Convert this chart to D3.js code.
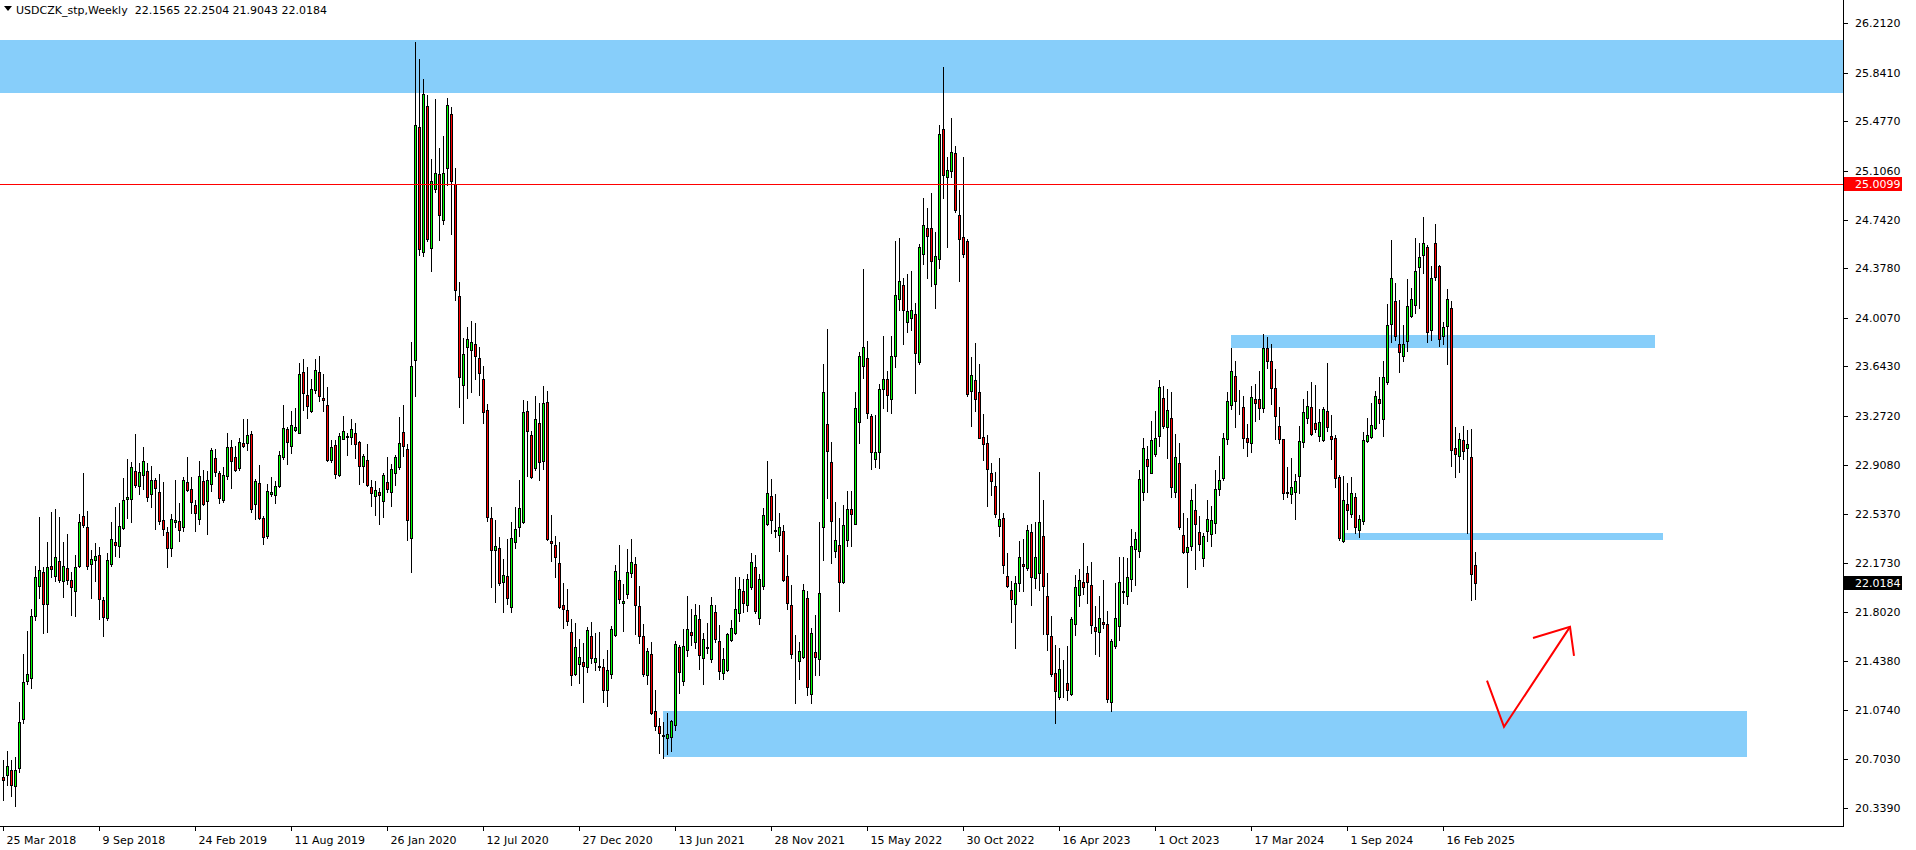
<!DOCTYPE html>
<html><head><meta charset="utf-8">
<script src="https://cdn.jsdelivr.net/npm/d3@7"></script>
<style>
body{margin:0;background:#fff;}
svg{display:block;}
text{font-family:"DejaVu Sans",sans-serif;font-size:11px;fill:#000;white-space:pre;}
</style>
</head><body>
<svg id="c" width="1916" height="850"></svg>
<script>
// ---- data (weekly USDCZK candles, first bar = week of 25 Mar 2018) ----
const openP = [20.567,20.582,20.620,20.500,20.635,21.002,21.291,21.313,21.775,22.000,22.102,21.862,22.147,22.077,22.184,22.037,22.134,22.044,21.960,22.152,22.523,22.441,22.162,22.192,22.229,21.895,21.758,22.162,22.329,22.301,22.431,22.648,22.648,22.860,22.745,22.828,22.860,22.691,22.790,22.701,22.491,22.401,22.281,22.481,22.483,22.444,22.775,22.723,22.603,22.498,22.783,22.638,22.760,22.955,22.843,22.641,22.820,23.037,22.963,22.880,23.067,23.067,23.135,22.611,22.768,22.506,22.371,22.688,22.678,22.745,22.963,23.172,23.050,23.170,23.142,23.599,23.427,23.307,23.464,23.599,23.404,23.352,22.945,23.052,22.833,23.097,23.117,23.117,23.142,23.075,22.895,22.940,22.738,22.676,22.700,22.632,22.776,22.700,22.847,22.888,23.149,23.024,22.357,23.688,25.432,24.499,25.590,24.529,24.972,25.081,24.738,25.127,25.530,25.010,24.167,23.503,23.786,23.767,23.808,23.704,23.546,23.318,22.507,22.270,22.281,22.027,22.072,21.845,22.326,22.439,22.481,23.307,23.127,22.885,23.217,22.933,23.374,22.339,22.304,22.174,21.855,21.817,21.653,21.341,21.418,21.428,21.396,21.625,21.433,21.393,21.391,21.218,21.343,21.635,22.042,21.872,21.937,22.094,22.162,21.847,21.623,21.331,21.490,21.061,20.947,20.879,20.862,20.869,20.957,21.540,21.286,21.518,21.653,21.578,21.750,21.458,21.538,21.451,21.802,21.585,21.346,21.373,21.593,21.645,21.795,21.960,21.855,21.990,22.139,21.762,22.002,22.466,22.671,22.411,22.384,22.409,22.072,21.855,21.471,21.436,21.466,21.907,21.191,21.503,21.451,22.439,23.210,22.925,22.259,22.306,22.032,22.341,22.573,22.461,23.224,23.644,23.704,23.272,22.950,22.999,23.470,23.545,23.398,23.718,24.146,24.250,23.973,24.007,24.033,23.678,24.487,24.677,24.680,24.256,24.443,25.417,25.064,25.108,25.238,24.773,24.608,24.579,23.459,23.539,23.450,23.112,23.066,22.846,22.745,22.451,22.506,22.072,21.967,21.862,22.019,22.164,22.132,22.401,22.057,22.094,22.371,21.922,21.623,21.351,21.166,21.353,21.271,21.191,21.717,21.935,22.027,22.094,22.004,21.695,21.653,21.727,21.712,21.129,21.553,21.697,21.955,21.927,22.049,22.274,22.259,22.701,22.948,22.843,22.987,23.122,23.404,23.187,23.254,22.701,22.918,22.379,22.251,22.296,22.566,22.401,22.207,22.409,22.386,22.469,22.723,22.805,23.097,23.352,23.569,23.357,23.337,23.105,23.067,23.402,23.397,23.334,23.778,23.681,23.479,23.195,23.097,22.701,22.691,22.706,22.825,23.075,23.254,23.337,23.217,23.120,23.090,23.307,23.120,23.105,22.813,22.334,22.611,22.536,22.663,22.416,22.483,23.082,23.112,23.180,23.402,23.252,23.524,23.958,24.130,23.813,23.719,23.831,24.018,24.100,24.385,24.480,24.534,23.918,24.564,24.392,23.873,23.943,24.078,23.030,22.973,23.090,23.030,22.963,22.1565];
const highP = [20.697,20.765,20.697,20.722,21.134,21.491,21.663,21.827,22.149,22.516,22.144,22.331,22.556,22.576,22.516,22.329,22.389,22.104,22.232,22.538,22.848,22.561,22.269,22.319,22.289,21.920,22.247,22.479,22.588,22.623,22.805,22.950,22.928,23.137,22.918,23.040,22.918,22.898,22.805,22.838,22.778,22.441,22.536,22.793,22.621,22.813,22.965,22.815,22.643,22.935,22.868,22.860,23.030,23.022,22.860,22.888,23.145,23.090,23.047,23.105,23.250,23.250,23.157,22.798,22.903,22.523,22.763,22.813,22.785,23.007,23.354,23.190,23.309,23.332,23.669,23.699,23.639,23.549,23.699,23.721,23.586,23.489,23.092,23.090,23.142,23.272,23.142,23.249,23.220,23.085,22.990,23.062,22.790,22.788,22.733,22.847,22.964,22.909,22.983,23.261,23.353,23.059,23.829,26.071,25.944,25.794,25.671,25.195,25.644,25.277,25.367,25.652,25.582,25.127,24.275,23.856,23.935,23.984,23.965,23.786,23.644,23.359,22.589,22.493,22.365,22.202,22.349,22.476,22.591,22.793,23.392,23.382,23.157,23.422,23.369,23.496,23.457,22.531,22.376,22.326,22.022,21.975,21.755,21.720,21.603,21.570,21.690,21.728,21.648,21.653,21.451,21.520,21.703,22.154,22.306,22.015,22.276,22.351,22.217,22.000,21.715,21.533,21.578,21.221,21.007,20.979,21.046,20.999,21.588,21.555,21.675,21.925,21.827,21.865,21.855,21.645,21.720,21.915,21.855,21.705,21.533,21.650,21.743,22.067,22.067,22.050,22.087,22.247,22.232,22.087,22.581,22.938,22.803,22.686,22.543,22.454,22.232,22.004,21.633,21.580,22.014,21.962,21.683,21.780,22.479,23.659,23.923,23.077,22.628,22.508,22.603,22.711,22.711,23.449,23.751,24.372,23.833,23.289,23.279,23.511,23.874,23.606,23.874,24.579,24.605,24.305,24.334,24.357,24.117,24.559,24.900,24.825,24.940,24.646,25.448,25.884,25.209,25.506,25.295,24.963,25.212,24.596,23.713,23.820,23.661,23.288,23.129,22.921,22.855,22.956,22.543,22.246,22.037,22.074,22.336,22.351,22.456,22.463,22.479,22.853,22.643,22.097,21.775,21.555,21.535,21.445,21.548,21.767,22.082,22.127,22.321,22.149,22.179,21.850,21.925,22.044,21.812,21.603,22.024,22.214,22.214,22.206,22.424,22.404,22.868,23.107,23.045,23.234,23.309,23.541,23.496,23.474,23.452,23.135,23.070,22.546,22.508,22.726,22.763,22.521,22.394,22.641,22.598,22.868,22.973,23.145,23.452,23.778,23.684,23.467,23.419,23.210,23.494,23.511,23.606,23.886,23.863,23.811,23.624,23.337,23.097,22.890,22.958,22.835,23.195,23.397,23.457,23.526,23.504,23.322,23.340,23.669,23.277,23.127,22.828,22.820,22.768,22.813,22.693,22.528,23.150,23.254,23.367,23.457,23.564,23.684,24.110,24.589,24.267,24.140,23.956,24.297,24.230,24.604,24.569,24.761,24.554,24.397,24.709,24.402,23.978,24.223,24.133,23.187,23.145,23.194,23.167,23.175,22.2504];
const lowP = [20.398,20.510,20.423,20.353,20.610,20.972,21.263,21.238,21.745,21.907,21.645,21.658,22.069,22.039,22.027,21.920,22.014,21.785,21.777,22.139,22.439,22.124,21.912,22.039,21.748,21.628,21.745,22.147,22.224,22.219,22.424,22.506,22.481,22.743,22.691,22.728,22.638,22.593,22.424,22.461,22.379,22.144,22.227,22.444,22.339,22.414,22.713,22.548,22.414,22.466,22.608,22.391,22.708,22.823,22.623,22.626,22.798,22.735,22.858,22.865,23.037,23.017,22.556,22.501,22.503,22.311,22.359,22.676,22.623,22.743,22.948,22.910,22.995,23.160,23.142,23.319,23.259,23.304,23.447,23.382,23.312,22.938,22.928,22.810,22.823,23.097,22.982,23.065,22.955,22.765,22.775,22.748,22.598,22.533,22.461,22.515,22.700,22.597,22.752,22.874,22.969,22.346,22.107,23.424,24.474,24.469,24.578,24.360,24.948,24.591,24.711,24.997,24.637,24.142,23.342,23.222,23.405,23.454,23.549,23.427,23.222,22.488,21.993,21.880,22.003,21.807,21.862,21.802,22.286,22.376,22.474,22.825,22.810,22.868,22.795,22.878,22.341,22.189,22.069,21.837,21.688,21.705,21.261,21.333,21.276,21.131,21.358,21.423,21.373,21.373,21.131,21.104,21.308,21.625,21.875,21.665,21.907,22.069,21.640,21.575,21.328,21.268,21.044,20.919,20.747,20.710,20.740,20.762,20.917,21.196,21.261,21.478,21.560,21.538,21.381,21.264,21.500,21.428,21.580,21.306,21.301,21.361,21.585,21.638,21.733,21.807,21.815,21.975,21.795,21.713,21.979,22.458,22.394,22.369,22.264,22.034,21.830,21.461,21.126,21.306,21.458,21.186,21.126,21.331,21.331,22.197,22.661,22.174,22.214,21.815,22.019,22.301,22.301,22.461,23.067,23.554,23.259,22.878,22.890,22.884,23.334,23.311,23.291,23.640,24.065,23.814,23.903,23.918,23.447,23.664,24.412,24.305,24.247,24.077,24.383,24.905,24.533,25.061,24.796,24.279,24.464,23.424,23.193,23.311,23.103,22.944,22.601,22.682,22.514,22.376,22.095,21.994,21.732,21.538,21.965,21.965,22.119,21.860,21.982,21.972,21.640,21.523,21.323,20.976,21.156,21.171,21.149,21.184,21.633,21.850,21.940,21.870,21.648,21.493,21.478,21.688,21.129,21.066,21.538,21.593,21.875,21.862,21.965,22.007,22.219,22.643,22.706,22.843,22.975,23.047,23.185,22.958,22.668,22.668,22.424,22.249,21.989,22.269,22.129,22.271,22.152,22.334,22.296,22.394,22.678,22.790,23.060,23.322,23.192,23.284,23.035,22.975,23.000,23.237,23.247,23.304,23.634,23.364,23.102,23.072,22.653,22.668,22.623,22.503,22.698,23.042,23.222,23.127,23.150,23.082,23.085,23.157,22.953,22.738,22.346,22.331,22.424,22.518,22.394,22.369,22.461,23.075,23.105,23.172,23.217,23.125,23.514,23.823,23.843,23.604,23.681,23.761,24.010,24.040,24.083,24.340,23.828,23.838,24.290,23.798,23.813,23.664,22.900,22.813,22.853,22.953,22.399,21.895,21.9043];
const closeP = [20.547,20.652,20.508,20.620,20.984,21.278,21.338,21.775,22.064,22.117,21.862,22.144,22.124,22.214,22.047,22.147,22.042,21.990,22.139,22.479,22.454,22.152,22.199,22.224,21.900,21.770,22.194,22.349,22.309,22.446,22.641,22.663,22.890,22.758,22.853,22.933,22.663,22.790,22.735,22.483,22.424,22.286,22.498,22.491,22.416,22.790,22.720,22.631,22.543,22.820,22.613,22.790,23.015,22.850,22.661,22.828,23.037,22.933,22.865,23.075,23.045,23.127,22.578,22.783,22.506,22.364,22.708,22.703,22.745,22.978,23.180,23.075,23.202,23.187,23.586,23.442,23.344,23.472,23.614,23.419,23.389,22.945,23.037,22.840,23.120,23.157,23.120,23.172,23.060,22.895,22.970,22.758,22.698,22.716,22.678,22.828,22.727,22.871,22.961,23.067,23.046,22.496,23.644,25.448,24.518,25.685,24.597,25.029,25.089,24.774,25.094,25.598,25.029,24.213,23.563,23.739,23.846,23.827,23.720,23.593,23.299,22.515,22.270,22.300,22.020,22.082,21.912,22.356,22.424,22.581,23.299,23.162,22.818,23.247,22.925,23.367,22.354,22.319,22.214,21.845,21.830,21.740,21.336,21.540,21.466,21.403,21.668,21.456,21.458,21.398,21.223,21.368,21.678,22.109,21.900,21.885,22.102,22.177,21.855,21.628,21.341,21.510,21.051,20.952,20.897,20.884,20.889,20.987,21.563,21.353,21.548,21.675,21.630,21.780,21.481,21.600,21.543,21.855,21.600,21.361,21.451,21.638,21.683,21.825,21.975,21.870,22.050,22.177,21.815,22.049,22.528,22.693,22.491,22.416,22.439,22.044,21.875,21.493,21.476,21.510,21.967,21.246,21.645,21.466,21.945,23.449,23.007,22.484,22.341,22.032,22.454,22.573,22.536,23.329,23.718,23.786,23.292,23.000,23.000,23.470,23.551,23.427,23.724,24.175,24.279,24.068,24.059,24.062,23.742,24.536,24.698,24.617,24.429,24.466,25.379,25.079,25.111,25.246,24.810,24.599,24.481,23.438,23.577,23.395,23.103,23.060,22.878,22.783,22.534,22.500,22.156,21.999,21.905,22.019,22.214,22.147,22.416,22.069,22.214,22.476,22.002,21.638,21.343,21.209,21.376,21.358,21.218,21.755,21.989,22.042,21.989,22.032,21.705,21.665,21.757,21.712,21.151,21.585,21.757,22.027,21.960,22.064,22.296,22.349,22.798,23.030,22.895,23.090,23.105,23.487,23.200,23.314,22.738,22.963,22.439,22.251,22.289,22.641,22.461,22.311,22.371,22.498,22.491,22.723,22.790,23.105,23.382,23.606,23.382,23.352,23.105,23.075,23.412,23.367,23.329,23.778,23.686,23.484,23.274,23.102,22.698,22.693,22.738,22.783,23.082,23.299,23.344,23.140,23.177,23.224,23.322,23.192,23.097,22.805,22.361,22.641,22.568,22.693,22.439,22.498,23.090,23.127,23.202,23.419,23.367,23.561,23.951,24.302,23.868,23.748,23.808,24.093,24.145,24.357,24.460,24.564,23.898,24.302,24.315,23.846,23.936,24.145,23.015,22.985,23.102,23.007,23.060,22.087,22.0184];

const dateLabels = ["25 Mar 2018","9 Sep 2018","24 Feb 2019","11 Aug 2019","26 Jan 2020","12 Jul 2020","27 Dec 2020","13 Jun 2021","28 Nov 2021","15 May 2022","30 Oct 2022","16 Apr 2023","1 Oct 2023","17 Mar 2024","1 Sep 2024","16 Feb 2025"];
const dateLabelStep = 24; // bars between date labels
const priceTicks = ["26.2120","25.8410","25.4770","25.1060","24.7420","24.3780","24.0070","23.6430","23.2720","22.9080","22.5370","22.1730","21.8020","21.4380","21.0740","20.7030","20.3390"];

// zones: [startBar, endBar, lowPrice, highPrice]
const zoneStart = [-2, 307, 335, 165];
const zoneEnd   = [470, 413, 415, 436];
const zoneLow   = [25.690, 23.781, 22.340, 20.715];
const zoneHigh  = [26.086, 23.878, 22.399, 21.064];

const levelPrice = 25.0099;
const headerSymbol = "USDCZK_stp,Weekly";
const headerOHLC = ["22.1565", "22.2504", "21.9043", "22.0184"];
// hand-drawn arrow (bar index, price)
const arrowBars   = [371, 375.25, 391.75];
const arrowPrices = [21.291, 20.944, 21.693];
const headBars    = [382.5, 391.75, 392.75];
const headPrices  = [21.610, 21.693, 21.476];

// ---- drawing ----
const W = 1916, H = 850;
const plotR = 1843, plotB = 826;
const svg = d3.select("#c");
svg.append("rect").attr("width", W).attr("height", H).attr("fill", "#fff");

const n = closeP.length;
const x = d3.scaleLinear().domain([0, n - 1]).range([3, 3 + 4 * (n - 1)]);
const y = d3.scaleLinear().domain([20.3390, 26.2120]).range([807.7, 23.2]);

const plot = svg.append("g");
svg.append("clipPath").attr("id", "pc").append("rect").attr("x", 0).attr("y", 0).attr("width", plotR).attr("height", plotB);
plot.attr("clip-path", "url(#pc)");

// zones
plot.selectAll("rect.zone").data(d3.range(zoneStart.length)).join("rect")
  .attr("class", "zone")
  .attr("x", k => Math.round(x(zoneStart[k])))
  .attr("width", k => Math.round(x(zoneEnd[k])) - Math.round(x(zoneStart[k])))
  .attr("y", k => Math.round(y(zoneHigh[k])))
  .attr("height", k => Math.round(y(zoneLow[k])) - Math.round(y(zoneHigh[k])))
  .attr("fill", "#87cefa");

// candles
const idx = d3.range(n);
const px = i => Math.round(x(i));
plot.selectAll("line.wick").data(idx).join("line")
  .attr("x1", i => px(i) + 0.5).attr("x2", i => px(i) + 0.5)
  .attr("y1", i => Math.round(y(highP[i]))).attr("y2", i => Math.round(y(lowP[i])) + 1)
  .attr("stroke", "#000").attr("stroke-width", 1);
plot.selectAll("rect.body").data(idx).join("rect")
  .attr("x", i => px(i) - 0.5)
  .attr("width", 2)
  .attr("y", i => Math.round(y(Math.max(openP[i], closeP[i]))) + 0.5)
  .attr("height", i => Math.max(0, Math.round(y(Math.min(openP[i], closeP[i]))) - Math.round(y(Math.max(openP[i], closeP[i])))))
  .attr("fill", i => closeP[i] >= openP[i] ? "#00ff00" : "#ff0000")
  .attr("stroke", "#000").attr("stroke-width", 1);

// horizontal level
plot.append("line").attr("x1", 0).attr("x2", plotR)
  .attr("y1", Math.round(y(levelPrice)) + 0.5).attr("y2", Math.round(y(levelPrice)) + 0.5)
  .attr("stroke", "#ff0000").attr("stroke-width", 1);

// arrow
const line = d3.line().x(d => x(d[0])).y(d => y(d[1]));
plot.append("path").attr("d", line(arrowBars.map((b, k) => [b, arrowPrices[k]])))
  .attr("fill", "none").attr("stroke", "#ff0000").attr("stroke-width", 2);
plot.append("path").attr("d", line(headBars.map((b, k) => [b, headPrices[k]])))
  .attr("fill", "none").attr("stroke", "#ff0000").attr("stroke-width", 2);

// frame
svg.append("line").attr("x1", plotR + 0.5).attr("x2", plotR + 0.5).attr("y1", 0).attr("y2", plotB + 1).attr("stroke", "#000");
svg.append("line").attr("x1", 0).attr("x2", plotR + 1).attr("y1", plotB + 0.5).attr("y2", plotB + 0.5).attr("stroke", "#000");

// price axis
const pt = svg.append("g");
priceTicks.forEach(t => {
  const yy = Math.round(y(+t)) + 0.5;
  pt.append("line").attr("x1", plotR).attr("x2", plotR + 5).attr("y1", yy).attr("y2", yy).attr("stroke", "#000");
  pt.append("text").attr("x", plotR + 12).attr("y", yy).attr("dy", "0.35em").text(t);
});
// price labels (level + current)
function priceBox(v, bg) {
  const yy = Math.round(y(v));
  svg.append("rect").attr("x", plotR + 1).attr("y", yy - 7).attr("width", 58).attr("height", 14).attr("fill", bg);
  svg.append("text").attr("x", plotR + 12).attr("y", yy + 0.5).attr("dy", "0.35em").style("fill", "#fff").text(v.toFixed(4));
}
priceBox(levelPrice, "#ff0000");
priceBox(closeP[n - 1], "#000");

// time axis
dateLabels.forEach((s, k) => {
  const xx = px(k * dateLabelStep) + 0.5;
  svg.append("line").attr("x1", xx).attr("x2", xx).attr("y1", plotB).attr("y2", plotB + 5).attr("stroke", "#000");
  svg.append("text").attr("x", xx + 3).attr("y", plotB + 18).text(s);
});

// header
svg.append("path").attr("d", "M4,6 L12,6 L8,11 Z").attr("fill", "#000");
svg.append("text").attr("x", 16).attr("y", 14).text(headerSymbol + "  " + headerOHLC.join(" "));
</script>
</body></html>
